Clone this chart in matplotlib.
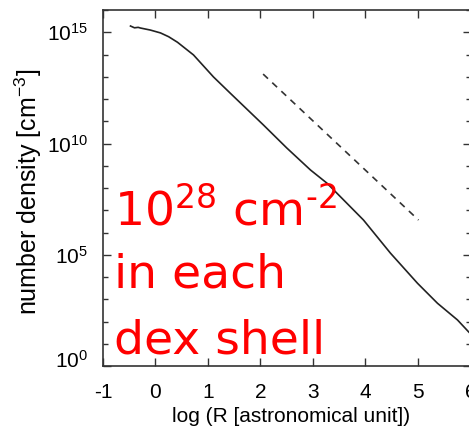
import numpy as np
import matplotlib
matplotlib.use("Agg")
import matplotlib.pyplot as plt
from matplotlib.ticker import FixedLocator, FixedFormatter, NullLocator, NullFormatter
from matplotlib.transforms import ScaledTranslation

# profile: log R [au] and log n [cm^-3]
log_r = [-0.476, -0.40, -0.33, -0.286, -0.10, 0.095, 0.25, 0.419, 0.724,
         1.105, 1.429, 2.057, 2.50, 2.952, 3.27, 3.962, 4.476, 4.99,
         5.371, 5.752, 5.962, 6.0]
log_n = [15.28, 15.20, 15.22, 15.19, 15.10, 14.97, 14.80, 14.55, 13.98,
         12.99, 12.25, 10.83, 9.80, 8.81, 8.21, 6.56, 5.07, 3.72,
         2.82, 2.07, 1.54, 1.45]

# dashed reference slope
ref_r = [2.05, 5.01]
ref_n = [13.12, 6.56]

xticks = [-1, 0, 1, 2, 3, 4, 5, 6]
ytick_exp = [0, 5, 10, 15]
yminor_exp = list(range(0, 17))

note_lines = [r"$\mathdefault{10^{28}}$ cm$^{\text{-2}}$", "in each", "dex shell"]

plt.rcParams["font.family"] = ["Liberation Sans", "DejaVu Sans"]

fig = plt.figure(figsize=(4.69, 4.33), dpi=100)
ax = fig.add_axes([0.2196, 0.1547, 1.0032 - 0.2196, 0.9769 - 0.1547])

ax.plot(log_r, 10.0 ** np.array(log_n), color="#222222", lw=1.2)
ax.plot(ref_r, 10.0 ** np.array(ref_n), color="#333333", lw=1.2,
        linestyle=(0, (4, 3.5)))

ax.set_yscale("log")
ax.set_xlim(-1, 6)
ax.set_ylim(1, 1e16)

ax.xaxis.set_major_locator(FixedLocator(xticks))
ax.xaxis.set_minor_locator(NullLocator())
ax.set_xticklabels([str(t) for t in xticks])

ax.yaxis.set_major_locator(FixedLocator([10.0 ** e for e in ytick_exp]))
ax.yaxis.set_major_formatter(FixedFormatter(
    [r"$\mathdefault{10^{%d}}$" % e for e in ytick_exp]))
ax.yaxis.set_minor_locator(FixedLocator([10.0 ** e for e in yminor_exp]))
ax.yaxis.set_minor_formatter(NullFormatter())

ax.tick_params(which="both", direction="in", top=True, right=True,
               color="#333333", width=1.0)
ax.tick_params(which="major", length=6, labelsize=15)
ax.tick_params(axis="x", which="major", pad=12)
ax.tick_params(axis="y", which="major", pad=11)
ax.tick_params(which="minor", length=3.5)

for s in ax.spines.values():
    s.set_linewidth(1.2)
    s.set_color("#333333")

# the 10^0 label sits a bit above the bottom spine in the original
lab0 = ax.get_yticklabels()[0]
lab0.set_transform(lab0.get_transform() + ScaledTranslation(0, 7 / 100, fig.dpi_scale_trans))

ax.set_xlabel("log (R [astronomical unit])", fontsize=15)
ax.xaxis.set_label_coords(0.512, -0.115)
ax.set_ylabel(r"number density [cm$\mathdefault{^{-3}}$]", fontsize=18)
ax.yaxis.set_label_coords(-0.16, 0.49)

baselines = [1 - 225 / 433, 1 - 288 / 433, 1 - 353 / 433]
for txt, yb in zip(note_lines, baselines):
    fig.text(0.244, yb, txt, color="#ff0000", fontsize=34,
             family="DejaVu Sans", va="baseline", ha="left")

fig.savefig("out.png", dpi=100)
